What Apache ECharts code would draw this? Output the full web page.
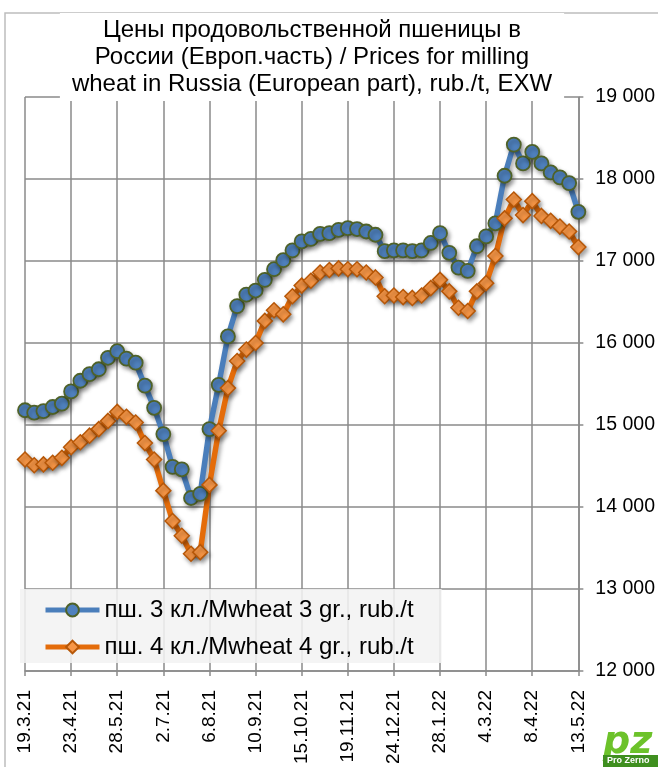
<!DOCTYPE html>
<html>
<head>
<meta charset="utf-8">
<script src="https://cdn.jsdelivr.net/npm/echarts@6/dist/echarts.min.js"></script>
<style>
  html, body { margin: 0; padding: 0; background: #fff; }
  #chart { width: 658px; height: 767px; }
</style>
</head>
<body>
<div id="chart"></div>
<script>
// weekly dates, 19.3.21 .. 13.5.22
const weeks = [
  '19.3.21', '26.3.21', '2.4.21', '9.4.21', '16.4.21', '23.4.21', '30.4.21', '7.5.21', '14.5.21', '21.5.21',
  '28.5.21', '4.6.21', '11.6.21', '18.6.21', '25.6.21', '2.7.21', '9.7.21', '16.7.21', '23.7.21', '30.7.21',
  '6.8.21', '13.8.21', '20.8.21', '27.8.21', '3.9.21', '10.9.21', '17.9.21', '24.9.21', '1.10.21', '8.10.21',
  '15.10.21', '22.10.21', '29.10.21', '5.11.21', '12.11.21', '19.11.21', '26.11.21', '3.12.21', '10.12.21', '17.12.21',
  '24.12.21', '31.12.21', '7.1.22', '14.1.22', '21.1.22', '28.1.22', '4.2.22', '11.2.22', '18.2.22', '25.2.22',
  '4.3.22', '11.3.22', '18.3.22', '25.3.22', '1.4.22', '8.4.22', '15.4.22', '22.4.22', '29.4.22', '6.5.22',
  '13.5.22'
]

// пш. 3 кл. (rub./t)
const wheat3 = [
  15180, 15150, 15170, 15220, 15260, 15410, 15540, 15620, 15680, 15820,
  15900, 15810, 15760, 15480, 15210, 14890, 14490, 14460, 14110, 14160,
  14950, 15490, 16080, 16450, 16590, 16640, 16770, 16900, 17010, 17130,
  17240, 17270, 17330, 17340, 17380, 17400, 17390, 17360, 17320, 17120,
  17130, 17130, 17120, 17130, 17220, 17340, 17100, 16920, 16880, 17180,
  17300, 17460, 18040, 18420, 18190, 18330, 18190, 18080, 18020, 17950,
  17600
]

// пш. 4 кл. (rub./t)
const wheat4 = [
  14580, 14510, 14520, 14540, 14600, 14730, 14790, 14870, 14950, 15050,
  15160, 15100, 15030, 14780, 14580, 14200, 13830, 13650, 13430, 13450,
  14270, 14930, 15450, 15780, 15920, 16000, 16270, 16400, 16350, 16570,
  16700, 16760, 16860, 16890, 16910, 16900, 16900, 16860, 16800, 16570,
  16580, 16560, 16550, 16580, 16670, 16770, 16630, 16430, 16390, 16630,
  16730, 17060, 17520, 17750, 17560, 17730, 17550, 17490, 17420, 17360,
  17170
]

const seriesNames = ['пш. 3 кл./Mwheat 3 gr., rub./t', 'пш. 4 кл./Mwheat 4 gr., rub./t']
const yTicks = { min: 12000, max: 19000, step: 1000 }

const font = '"Liberation Sans", Arial, sans-serif'
const gridColor = '#8a8a8a'
const shadow = { shadowColor: 'rgba(0,0,0,0.35)', shadowBlur: 4, shadowOffsetX: 2, shadowOffsetY: 3 }

const chart = echarts.init(document.getElementById('chart'), null, { renderer: 'canvas' })

const option = {
  backgroundColor: '#fff',
  animation: false,
  title: {
    text: 'Цены продовольственной пшеницы в\nРоссии (Европ.часть) / Prices for milling\nwheat in Russia (European part), rub./t, EXW',
    left: 300,
    top: 13,
    textAlign: 'center',
    backgroundColor: '#fff',
    padding: [4, 12, 3, 12],
    textStyle: {
      fontFamily: font,
      fontSize: 24,
      fontWeight: 'normal',
      lineHeight: 27,
      color: '#000'
    }
  },
  legend: {
    orient: 'vertical',
    left: 20,
    top: 589,
    backgroundColor: 'rgba(242,242,242,0.88)',
    padding: [9, 28, 4, 23],
    itemWidth: 54,
    itemHeight: 16,
    itemGap: 13,
    lineStyle: { width: 5 },
    textStyle: { fontFamily: font, fontSize: 24, color: '#000' },
    data: seriesNames
  },
  grid: { left: 25, right: 79, top: 97, bottom: 95 },
  xAxis: {
    type: 'category',
    boundaryGap: false,
    data: weeks,
    axisLine: { lineStyle: { color: gridColor, width: 1.5 } },
    axisTick: { show: true, interval: 4, length: 5, lineStyle: { color: gridColor, width: 1.5 } },
    axisLabel: {
      interval: 4,
      rotate: 90,
      margin: 19,
      fontFamily: font,
      fontSize: 19,
      color: '#000'
    },
    splitLine: { show: true, interval: 4, lineStyle: { color: gridColor, width: 1.5 } }
  },
  yAxis: {
    type: 'value',
    position: 'right',
    min: yTicks.min,
    max: yTicks.max,
    interval: yTicks.step,
    axisLine: { show: true, lineStyle: { color: gridColor, width: 1.5 } },
    axisTick: { show: true, length: 5, lineStyle: { color: gridColor, width: 1.5 } },
    axisLabel: {
      margin: 17,
      fontFamily: font,
      fontSize: 19.5,
      color: '#000',
      formatter: v => String(v).replace(/\B(?=(\d{3})+(?!\d))/g, ' ')
    },
    splitLine: { lineStyle: { color: gridColor, width: 1.5 } }
  },
  series: [
    {
      name: seriesNames[0],
      type: 'line',
      data: wheat3,
      symbol: 'circle',
      symbolSize: 14,
      showAllSymbol: true,
      lineStyle: { color: '#4a7ebb', width: 5.5, ...shadow },
      itemStyle: { color: '#4f81bd', borderColor: '#4f6228', borderWidth: 1.8, ...shadow }
    },
    {
      name: seriesNames[1],
      type: 'line',
      data: wheat4,
      symbol: 'diamond',
      symbolSize: 15,
      showAllSymbol: true,
      lineStyle: { color: '#e46c0a', width: 5.5, ...shadow },
      itemStyle: { color: '#f79646', borderColor: '#b65708', borderWidth: 1.5, ...shadow }
    }
  ],
  graphic: [
    // outer chart border (only left and top edges show)
    {
      type: 'rect',
      shape: { x: 5, y: 13, width: 800, height: 900 },
      style: { fill: 'none', stroke: '#bdbdbd', lineWidth: 1.5 },
      silent: true
    },
    // ProZerno logo
    {
      type: 'group',
      left: 603,
      top: 724,
      children: [
        {
          type: 'text',
          style: { x: 0, y: 0, text: 'pz', font: 'bold italic 38px "DejaVu Sans", sans-serif', fill: '#6cc22a' }
        },
        {
          type: 'rect',
          shape: { x: 0, y: 31, width: 55, height: 12 },
          style: { fill: '#3f8f1f' }
        },
        {
          type: 'text',
          style: { x: 4, y: 32, text: 'Pro Zerno', font: 'bold 9px "Liberation Sans", sans-serif', fill: '#fff' }
        }
      ]
    }
  ]
}

chart.setOption(option)
</script>
</body>
</html>
